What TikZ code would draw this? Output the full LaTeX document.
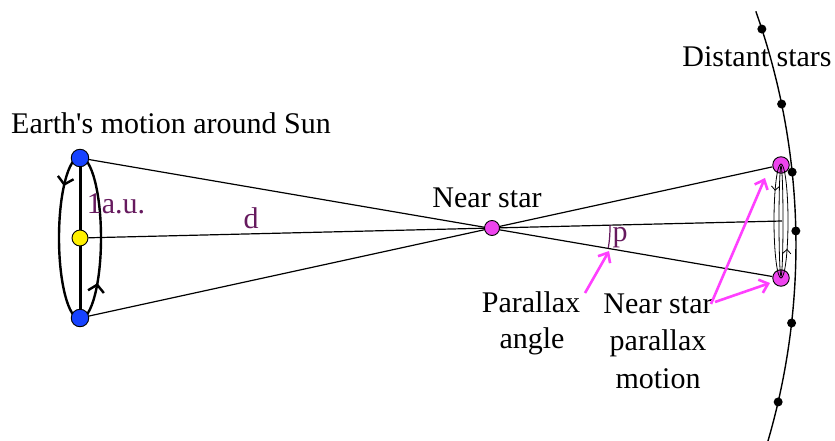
\documentclass[tikz,border=0pt]{standalone}
\usepackage{fontspec}
\setmainfont{Liberation Serif}
\usetikzlibrary{arrows.meta,decorations.markings,backgrounds,calc}
\definecolor{pur}{RGB}{102,26,94}
\definecolor{mag}{RGB}{255,64,255}
\definecolor{starmag}{RGB}{238,68,238}
\definecolor{earthblue}{RGB}{22,66,255}
\definecolor{sunyellow}{RGB}{255,240,0}
\tikzset{
  body/.style={circle, draw=black, line width=0.9pt, inner sep=0pt},
  earth/.style={body, fill=earthblue, minimum size=17.5pt},
  sunbody/.style={body, fill=sunyellow, minimum size=16pt},
  starbody/.style={body, fill=starmag, minimum size=15pt},
  imgstar/.style={body, fill=starmag, minimum size=16.5pt},
  dstar/.style={circle, fill=black, inner sep=0pt, minimum size=9pt},
  ray/.style={line width=1.2pt},
  lbl/.style={inner sep=0pt, anchor=base},
  plbl/.style={lbl, text=pur},
  pointer/.style={draw=mag, line width=2.6pt, -{Straight Barb[length=8pt,width=14pt]}},
}
\begin{document}
\begin{tikzpicture}[x=1pt,y=-1pt,font=\fontsize{30}{36}\selectfont]
\useasboundingbox (0,0) rectangle (835,441);

% bodies
\node[earth] (e1) at (80,158) {};
\node[sunbody] (sun) at (80,238) {};
\node[earth] (e2) at (80,318) {};
\node[starbody] (ns) at (492,228) {};
\node[imgstar] (s1) at (781,165) {};
\node[imgstar] (s2) at (781,278) {};
\coordinate (m) at (782,221);

\begin{scope}[on background layer]
  \draw[ray] (e1) -- (s2);
  \draw[ray] (e2) -- (s1);
  \draw[ray] (sun) -- (m);
  \draw[line width=3pt] (e1.center) -- (e2.center);
  % Earth orbit
  \draw[line width=2.4pt, postaction={decorate},
    decoration={markings,
      mark=at position 0.13 with {\arrowreversed{Straight Barb[length=7pt,width=16pt]}},
      mark=at position 0.65 with {\arrowreversed{Straight Barb[length=7pt,width=16pt]}}}]
    (80,238) ellipse [x radius=21, y radius=81];
\end{scope}

% parallax motion ellipse
\draw[line width=0.8pt, postaction={decorate},
  decoration={markings,
    mark=at position 0.12 with {\arrowreversed{Straight Barb[length=4pt,width=8pt]}},
    mark=at position 0.63 with {\arrowreversed{Straight Barb[length=4pt,width=8pt]}}}]
  (781,221) ellipse [x radius=7, y radius=57];
\draw[line width=0.8pt] (781,221) ellipse [x radius=2, y radius=55];

% distant stars sphere
\draw[line width=1.4pt] ($(96,245)+(-19.5:700)$) arc[start angle=-19.5, end angle=16.6, radius=700];
\node[dstar] (d1) at ($(96,245)+(-17.97:700)$) {};
\node[dstar] (d2) at ($(96,245)+(-11.62:700)$) {};
\node[dstar] (d3) at ($(96,245)+(-5.98:700)$) {};
\node[dstar] (d4) at ($(96,245)+(-1.15:700)$) {};
\node[dstar] (d5) at ($(96,245)+(6.4:700)$) {};
\node[dstar] (d6) at ($(96,245)+(12.96:700)$) {};

% parallax angle arc
\draw[pur, line width=1.2pt] ($(ns.center)+(-1.4:118)$) arc[start angle=-1.4, end angle=9.8, radius=118];

% labels
\node[lbl] (tearth) at (171,134) {Earth\textquotesingle s motion around Sun};
\node[lbl] (tdist) at (757,67) {Distant stars};
\node[lbl] (tnear) at (487,207) {Near star};
\node[plbl] (tau) at (116,213) {1a.u.};
\node[plbl] (td) at (251,228) {d};
\node[plbl] (tp) at (620,241) {p};
\node[lbl] (pa1) at (531,312) {Parallax};
\node[lbl] (pa2) at (532,348) {angle};
\node[lbl] (nm1) at (658,313) {Near star};
\node[lbl] (nm2) at (658,350) {parallax};
\node[lbl] (nm3) at (658,388) {motion};

% pointers
\coordinate (a1s) at (585,293);
\coordinate (a1e) at (609,251);
\coordinate (a2s) at (711,304);
\coordinate (a2e) at (765,178);
\coordinate (a3s) at (715,302);
\coordinate (a3e) at (770,283);
\draw[pointer] (a1s) -- (a1e);
\draw[pointer] (a2s) -- (a2e);
\draw[pointer] (a3s) -- (a3e);
\end{tikzpicture}
\end{document}
